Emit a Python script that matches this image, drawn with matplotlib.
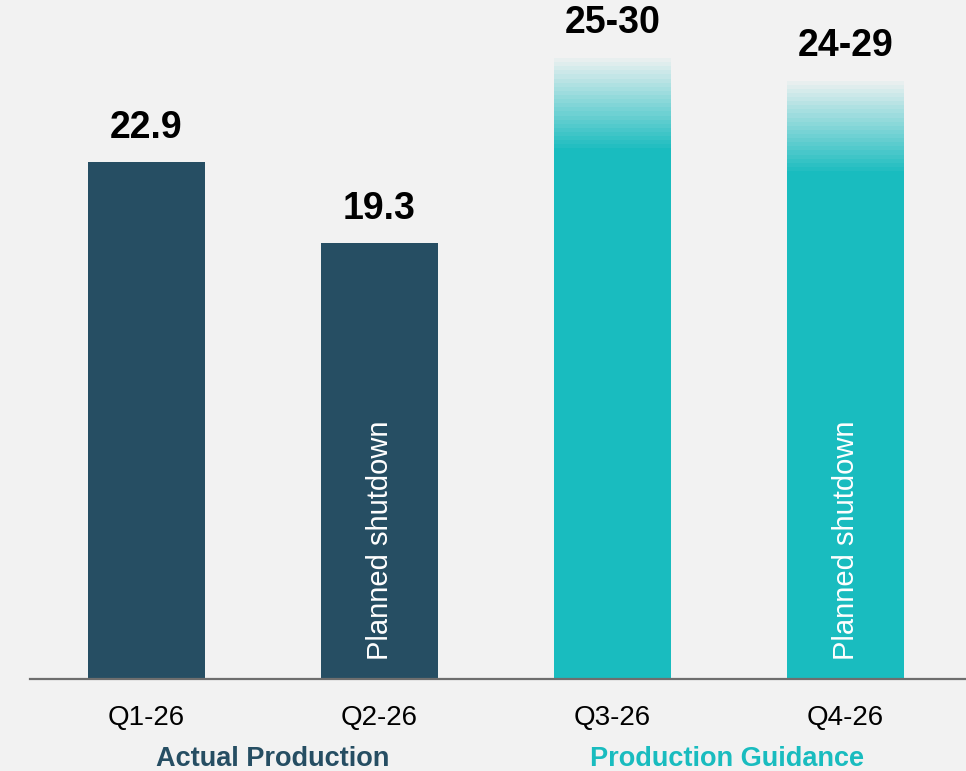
import numpy as np
import matplotlib.pyplot as plt
from matplotlib.transforms import blended_transform_factory

quarters = ["Q1-26", "Q2-26", "Q3-26", "Q4-26"]
actual = [22.9, 19.3]
guide_low = [25, 24]
guide_high = [30, 29]
group_names = ["Actual Production", "Production Guidance"]
shutdown = ["Q2-26", "Q4-26"]

dark = "#264E63"
teal = "#19BCBF"
bg = "#F2F2F2"
plt.rcParams["font.family"] = ["Liberation Sans", "DejaVu Sans"]

W, H = 966, 771
fig = plt.figure(figsize=(W / 100, H / 100), dpi=100, facecolor=bg)
ax = fig.add_axes([30 / W, 92 / H, 936 / W, 679 / H], facecolor=bg)

x = np.arange(len(quarters))
width = 0.502

# actual bars
ax.bar(x[:2], actual, width=width, color=dark)
for xi, v in zip(x[:2], actual):
    ax.text(xi, v + 1.5, f"{v:.1f}", ha="center", va="center",
            fontsize=27, fontweight="bold", color="black")

# guidance bars: solid body, faded band up to midpoint of range
n_steps = 22
fade = 4.0
for xi, lo, hi in zip(x[2:], guide_low, guide_high):
    mid = (lo + hi) / 2
    ax.bar(xi, mid - fade, width=width, color=teal)
    step = fade / n_steps
    for k in range(n_steps):
        a = 1 - (k + 1) / (n_steps + 1)
        ax.bar(xi, step, bottom=mid - fade + k * step, width=width,
               color=teal, alpha=a, linewidth=0)
    ax.text(xi, hi - 0.95, f"{lo}-{hi}", ha="center", va="center",
            fontsize=27, fontweight="bold", color="black")

for q in shutdown:
    i = quarters.index(q)
    ax.text(x[i], 0.85, "Planned shutdown", rotation=90, ha="center",
            va="bottom", color="white", fontsize=21)

ax.set_xlim(-0.5, 3.517)
ax.set_ylim(0, 30.07)
ax.set_xticks(x)
ax.set_xticklabels(quarters, fontsize=20)
ax.tick_params(axis="x", length=0, pad=19)
ax.set_yticks([])
for s in ["top", "left", "right"]:
    ax.spines[s].set_visible(False)
ax.spines["bottom"].set_color("#6E6E6E")
ax.spines["bottom"].set_linewidth(1.6)

tr = blended_transform_factory(ax.transData, fig.transFigure)
ax.text(0.54, 12 / H, group_names[0], transform=tr, ha="center", va="center",
        fontsize=19.5, fontweight="bold", color=dark)
ax.text(2.49, 12 / H, group_names[1], transform=tr, ha="center", va="center",
        fontsize=19.5, fontweight="bold", color=teal)

fig.savefig("out.png", dpi=100, facecolor=bg)
